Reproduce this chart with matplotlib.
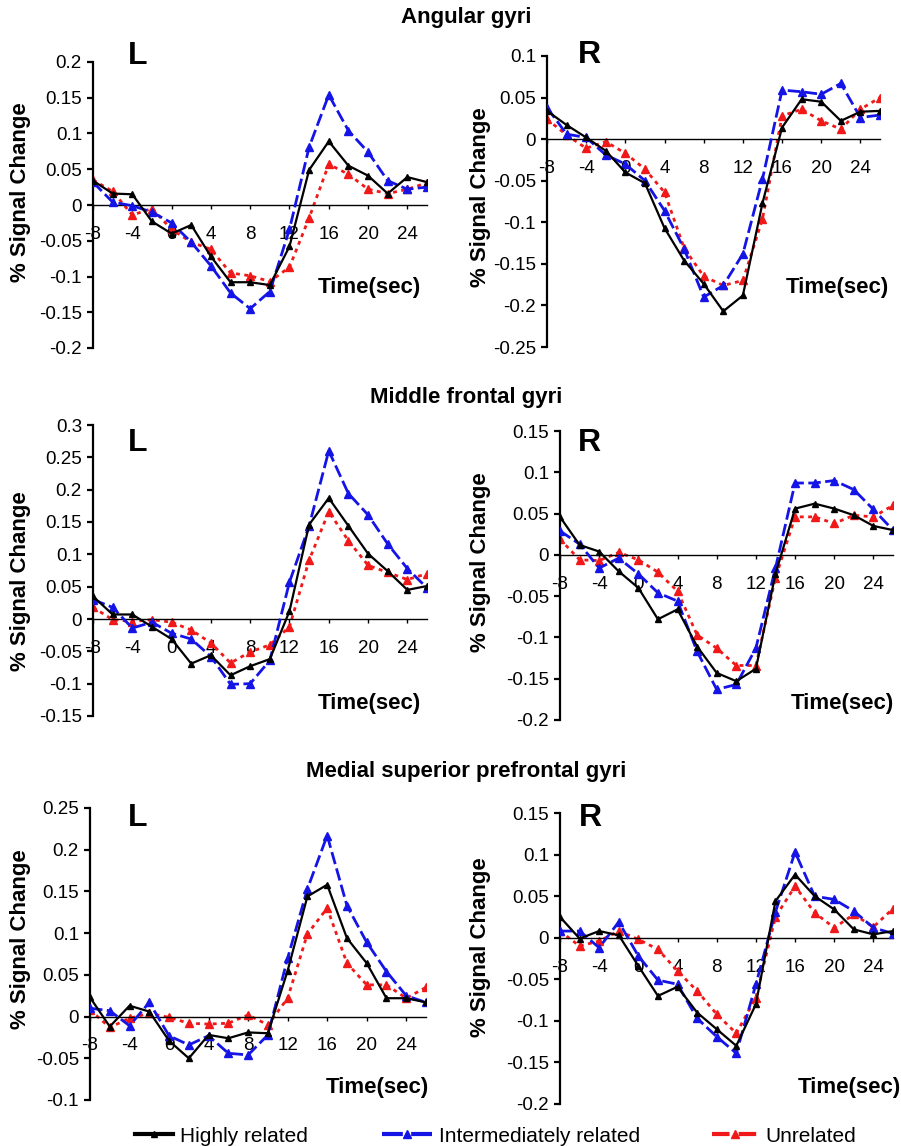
import matplotlib
matplotlib.use('Agg')
import matplotlib.pyplot as plt
from matplotlib.lines import Line2D
from matplotlib.ticker import FuncFormatter

plt.rcParams['font.family'] = ['Liberation Sans', 'DejaVu Sans']
plt.rcParams['axes.unicode_minus'] = False

# Time axis (sec)
time = [-8, -6, -4, -2, 0, 2, 4, 6, 8, 10, 12, 14, 16, 18, 20, 22, 24, 26]
x_ticks = [-8, -4, 0, 4, 8, 12, 16, 20, 24]

# Angular gyri
ang_L_high = [0.034, 0.016, 0.015, -0.023, -0.040, -0.028, -0.072, -0.108, -0.108, -0.112,
              -0.058, 0.049, 0.089, 0.055, 0.041, 0.016, 0.039, 0.032]
ang_L_inter = [0.032, 0.004, -0.001, -0.010, -0.025, -0.052, -0.085, -0.123, -0.145, -0.121,
               -0.034, 0.081, 0.154, 0.104, 0.074, 0.034, 0.022, 0.025]
ang_L_unrel = [0.035, 0.019, -0.014, -0.005, -0.034, -0.052, -0.062, -0.095, -0.099, -0.107,
               -0.087, -0.018, 0.057, 0.043, 0.022, 0.016, 0.022, 0.031]

ang_R_high = [0.034, 0.017, 0.002, -0.014, -0.040, -0.053, -0.107, -0.146, -0.174, -0.207,
              -0.188, -0.077, 0.014, 0.048, 0.045, 0.022, 0.033, 0.034]
ang_R_inter = [0.038, 0.006, 0.002, -0.019, -0.030, -0.050, -0.086, -0.132, -0.190, -0.176,
               -0.138, -0.048, 0.059, 0.057, 0.054, 0.067, 0.026, 0.029]
ang_R_unrel = [0.024, 0.005, -0.011, -0.003, -0.017, -0.036, -0.064, -0.131, -0.165, -0.176,
               -0.170, -0.096, 0.028, 0.036, 0.022, 0.012, 0.036, 0.050]

# Middle frontal gyri
mid_L_high = [0.035, 0.007, 0.007, -0.012, -0.031, -0.069, -0.056, -0.087, -0.073, -0.062,
              0.012, 0.146, 0.187, 0.144, 0.101, 0.074, 0.045, 0.051]
mid_L_inter = [0.030, 0.018, -0.014, -0.005, -0.022, -0.031, -0.058, -0.101, -0.100, -0.064,
               0.057, 0.144, 0.260, 0.194, 0.161, 0.116, 0.078, 0.048]
mid_L_unrel = [0.018, -0.001, -0.004, -0.001, -0.005, -0.017, -0.037, -0.068, -0.051, -0.040,
               -0.012, 0.091, 0.166, 0.121, 0.083, 0.072, 0.061, 0.070]

mid_R_high = [0.046, 0.012, 0.004, -0.020, -0.040, -0.078, -0.066, -0.111, -0.143, -0.153,
              -0.138, -0.023, 0.056, 0.062, 0.056, 0.048, 0.035, 0.030]
mid_R_inter = [0.029, 0.013, -0.016, -0.004, -0.023, -0.046, -0.056, -0.117, -0.163, -0.157,
               -0.113, -0.016, 0.087, 0.087, 0.090, 0.079, 0.055, 0.030]
mid_R_unrel = [0.019, -0.006, -0.007, 0.003, -0.006, -0.021, -0.044, -0.097, -0.113, -0.134,
               -0.134, -0.028, 0.046, 0.046, 0.038, 0.048, 0.046, 0.060]

# Medial superior prefrontal gyri
med_L_high = [0.023, -0.012, 0.013, 0.006, -0.029, -0.050, -0.022, -0.026, -0.019, -0.020,
              0.055, 0.144, 0.158, 0.094, 0.064, 0.022, 0.022, 0.017]
med_L_inter = [0.010, 0.007, -0.011, 0.017, -0.023, -0.034, -0.023, -0.044, -0.046, -0.022,
               0.070, 0.153, 0.217, 0.133, 0.089, 0.054, 0.025, 0.017]
med_L_unrel = [0.008, -0.013, -0.002, 0.004, -0.001, -0.008, -0.009, -0.008, 0.002, -0.010,
               0.022, 0.099, 0.130, 0.064, 0.038, 0.038, 0.022, 0.035]

med_R_high = [0.025, -0.001, 0.008, 0.003, -0.034, -0.070, -0.059, -0.090, -0.110, -0.130,
              -0.080, 0.044, 0.076, 0.050, 0.034, 0.010, 0.004, 0.008]
med_R_inter = [0.008, 0.008, -0.012, 0.019, -0.022, -0.051, -0.056, -0.097, -0.119, -0.139,
               -0.056, 0.031, 0.103, 0.050, 0.046, 0.032, 0.012, 0.005]
med_R_unrel = [0.008, -0.010, -0.004, 0.008, -0.002, -0.014, -0.040, -0.064, -0.092, -0.115,
               -0.072, 0.025, 0.062, 0.030, 0.012, 0.028, 0.013, 0.035]

W, H = 901, 1146
fig = plt.figure(figsize=(W / 100, H / 100), dpi=100)

BLUE = '#1414e6'
RED = '#f01818'
styles = {
    'high': dict(color='black', lw=1.6, marker='^', ms=5, zorder=4),
    'inter': dict(color=BLUE, lw=2.0, dashes=(4.5, 1.6), marker='^', ms=5.5, zorder=3),
    'unrel': dict(color=RED, lw=2.0, dashes=(1.4, 1.6), marker='^', ms=6, zorder=2),
}


def fx(x):
    return x / W


def fy(y):
    return 1 - y / H


def panel(box, ylim, ystep, high, inter, unrel, side, ylab_pos, time_pos, side_pos):
    l, r, t, b = box
    ax = fig.add_axes([fx(l), fy(b), (r - l) / W, (b - t) / H])
    ax.plot(time, unrel, **styles['unrel'])
    ax.plot(time, inter, **styles['inter'])
    ax.plot(time, high, **styles['high'])
    ax.set_xlim(-8, 26)
    ax.set_ylim(*ylim)
    n = int(round((ylim[1] - ylim[0]) / ystep))
    ax.set_yticks([ylim[0] + i * ystep for i in range(n + 1)])
    ax.yaxis.set_major_formatter(FuncFormatter(lambda v, p: '%g' % round(v, 3)))
    ax.set_xticks(x_ticks)
    ax.spines['top'].set_visible(False)
    ax.spines['right'].set_visible(False)
    ax.spines['bottom'].set_position(('data', 0))
    ax.spines['bottom'].set_linewidth(1.0)
    ax.spines['left'].set_linewidth(1.6)
    ax.tick_params(axis='y', direction='out', length=4, width=1.6, labelsize=13.5, pad=4)
    ax.tick_params(axis='x', direction='out', length=3, width=1.0, labelsize=13.5, pad=12)
    ax.patch.set_alpha(0)
    fig.text(fx(ylab_pos[0]), fy(ylab_pos[1]), '% Signal Change', rotation=90,
             ha='center', va='center', fontsize=16, fontweight='bold')
    fig.text(fx(time_pos[0]), fy(time_pos[1]), 'Time(sec)', ha='center', va='center',
             fontsize=16, fontweight='bold')
    fig.text(fx(side_pos[0]), fy(side_pos[1]), side, ha='center', va='center',
             fontsize=23, fontweight='bold')
    return ax


panel((93, 427, 62, 348), (-0.2, 0.2), 0.05, ang_L_high, ang_L_inter, ang_L_unrel,
      'L', (21, 192), (369, 288), (138, 56))
panel((547, 880, 56, 347), (-0.25, 0.1), 0.05, ang_R_high, ang_R_inter, ang_R_unrel,
      'R', (481, 197), (837, 288), (589, 55))
panel((93, 427, 425, 716), (-0.15, 0.3), 0.05, mid_L_high, mid_L_inter, mid_L_unrel,
      'L', (21, 581), (369, 703), (138, 443))
panel((560, 893, 431, 720), (-0.2, 0.15), 0.05, mid_R_high, mid_R_inter, mid_R_unrel,
      'R', (481, 562), (842, 703), (589, 443))
panel((90, 426, 808, 1100), (-0.1, 0.25), 0.05, med_L_high, med_L_inter, med_L_unrel,
      'L', (21, 939), (377, 1087), (138, 818))
panel((560, 893, 813, 1104), (-0.2, 0.15), 0.05, med_R_high, med_R_inter, med_R_unrel,
      'R', (481, 947), (849, 1088), (590, 818))

# Section titles
for title, y in [('Angular gyri', 17), ('Middle frontal gyri', 398),
                 ('Medial superior prefrontal gyri', 772)]:
    fig.text(fx(466), fy(y), title, ha='center', va='center', fontsize=16, fontweight='bold')

# Legend
legend_items = [
    ('Highly related', dict(color='black', lw=3, marker='^', ms=5), 135, 1.8),
    ('Intermediately related', dict(color=BLUE, lw=3, dashes=(5, 2), marker='^', ms=6), 382, 2.4),
    ('Unrelated', dict(color=RED, lw=3, dashes=(4.2, 2.2), marker='^', ms=6), 712, 2.2),
]
for label, st, x0, hl in legend_items:
    h = Line2D([], [], **st)
    fig.legend(handles=[h], labels=[label], loc='center left',
               bbox_to_anchor=(fx(x0), fy(1136)), frameon=False, fontsize=15,
               numpoints=1, handlelength=hl, handletextpad=0.35,
               borderpad=0, borderaxespad=0)

fig.savefig('out.png', dpi=100)
